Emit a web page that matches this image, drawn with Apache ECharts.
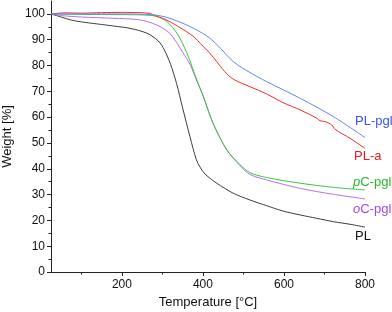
<!DOCTYPE html>
<html><head><meta charset="utf-8">
<script src="https://cdn.jsdelivr.net/npm/echarts@6/dist/echarts.min.js"></script>
<style>html,body{margin:0;padding:0;background:#fff}#c{width:392px;height:312px}</style>
</head><body><div id="c"></div>
<script>
const xMajorTicks = [200, 400, 600, 800];
const xMinorTicks = [100, 300, 500, 700];
const yMajorTicks = [0, 10, 20, 30, 40, 50, 60, 70, 80, 90, 100];
const yMinorTicks = [5, 15, 25, 35, 45, 55, 65, 75, 85, 95];

const plT = [25, 50, 75, 100, 140, 180, 220, 262, 290, 305, 320, 335, 350, 368, 384, 393, 405, 421, 434, 475, 516, 557, 598, 640, 681, 722, 763, 800];
const plW = [100, 98.8, 97.6, 96.9, 96.1, 95.3, 94.4, 92.5, 89.5, 86, 80.5, 73, 63.5, 52.4, 43.4, 40.6, 38, 35.9, 34.4, 30.5, 27.9, 25.7, 23.6, 22.1, 20.8, 19.5, 18.5, 17.4];

const ocT = [25, 54, 100, 178, 244, 286, 318, 351, 368, 384, 401, 425, 459, 491, 516, 557, 640, 722, 800];
const ocW = [100, 99.3, 98.8, 98.3, 97.7, 95.7, 92.5, 84.9, 80.5, 74.4, 68, 57.6, 47.3, 41.3, 37.8, 35.7, 32.4, 30.1, 28.3];

const pcT = [25, 100, 200, 250, 286, 311, 336, 360, 385, 401, 425, 459, 491, 516, 557, 640, 722, 800];
const pcW = [100, 99.8, 99.7, 99.6, 99, 97, 92.5, 85, 74.4, 68, 57.6, 47.3, 41.7, 38.5, 36.6, 34.4, 32.8, 31.8];

const paT = [25, 60, 100, 150, 200, 240, 270, 277, 300, 318, 340, 360, 380, 393, 417, 434, 454, 475, 516, 557, 598, 640, 681, 689, 701, 718, 726, 763, 800];
const paW = [100, 100.4, 100.3, 100.5, 100.6, 100.5, 100.2, 99.6, 98.3, 97, 95, 93.1, 90.8, 88.6, 84.8, 81.5, 77.6, 74.7, 71.8, 69, 65.6, 62.8, 59.6, 58.6, 58.3, 57, 55.3, 51.8, 47.9];

const ppT = [25, 100, 200, 280, 318, 368, 409, 434, 475, 516, 557, 640, 722, 800];
const ppW = [100, 100, 100, 99.6, 98.3, 95.1, 91.5, 88.2, 81.5, 77.3, 73.8, 67.3, 60.2, 52.1];

const pair = (t, w) => t.map((v, i) => [v, w[i]]);
const FONT = 'Liberation Sans';

const chart = echarts.init(document.getElementById('c'), null, {renderer: 'canvas'});
const mkLine = (name, t, w, color) => ({
  name, type: 'line', xAxisIndex: 0, yAxisIndex: 0, data: pair(t, w),
  showSymbol: false, smooth: 0.3, lineStyle: {color, width: 1}, itemStyle: {color}, animation: false
});

chart.setOption({
  animation: false,
  grid: {left: 51, right: 27, top: 1, bottom: 40, containLabel: false, outerBoundsMode: 'none'},
  xAxis: [{
    type: 'value', min: 25, max: 800,
    name: 'Temperature [°C]', nameLocation: 'middle', nameGap: 23,
    nameTextStyle: {fontFamily: FONT, fontSize: 13, color: '#111'},
    axisLine: {lineStyle: {color: '#222', width: 1}},
    axisTick: {customValues: xMajorTicks, length: 4, lineStyle: {color: '#222'}},
    axisLabel: {customValues: xMajorTicks, margin: 7, fontFamily: FONT, fontSize: 12, color: '#111'},
    splitLine: {show: false}
  }, {
    type: 'value', min: 25, max: 800, position: 'bottom',
    axisLine: {show: false},
    axisTick: {customValues: xMinorTicks, length: 2.5, lineStyle: {color: '#222'}},
    axisLabel: {show: false}, splitLine: {show: false}
  }],
  yAxis: [{
    type: 'value', min: 0, max: 105,
    name: 'Weight [%]', nameLocation: 'middle', nameGap: 36,
    nameTextStyle: {fontFamily: FONT, fontSize: 13, color: '#111'},
    axisLine: {show: true, lineStyle: {color: '#222', width: 1}},
    axisTick: {customValues: yMajorTicks, length: 4, lineStyle: {color: '#222'}},
    axisLabel: {customValues: yMajorTicks, margin: 6, fontFamily: FONT, fontSize: 12, color: '#111'},
    splitLine: {show: false}
  }, {
    type: 'value', min: 0, max: 105, position: 'left',
    axisLine: {show: false},
    axisTick: {customValues: yMinorTicks, length: 2.5, lineStyle: {color: '#222'}},
    axisLabel: {show: false}, splitLine: {show: false}
  }],
  series: [
    mkLine('PL', plT, plW, '#3c3c3c'),
    mkLine('oC-pgl', ocT, ocW, '#b56cf2'),
    mkLine('pC-pgl', pcT, pcW, '#3cc43c'),
    mkLine('PL-a', paT, paW, '#f22a2a'),
    mkLine('PL-pgl', ppT, ppW, '#6383f2')
  ],
  graphic: [
    {type: 'text', left: 355, top: 115, style: {text: 'PL-pgl', fill: '#3a52e8', font: '13px "Liberation Sans"'}},
    {type: 'text', left: 354, top: 150, style: {text: 'PL-a', fill: '#f01818', font: '13px "Liberation Sans"'}},
    {type: 'text', left: 353, top: 176, style: {text: '{i|p}C-pgl', fill: '#2cb82c', font: '13px "Liberation Sans"',
      rich: {i: {fontStyle: 'italic', fill: '#2cb82c', fontSize: 13, fontFamily: 'Liberation Sans'}}}},
    {type: 'text', left: 353, top: 203, style: {text: '{i|o}C-pgl', fill: '#a446ec', font: '13px "Liberation Sans"',
      rich: {i: {fontStyle: 'italic', fill: '#a446ec', fontSize: 13, fontFamily: 'Liberation Sans'}}}},
    {type: 'text', left: 355, top: 230, style: {text: 'PL', fill: '#111', font: '13px "Liberation Sans"'}}
  ]
});
</script></body></html>
